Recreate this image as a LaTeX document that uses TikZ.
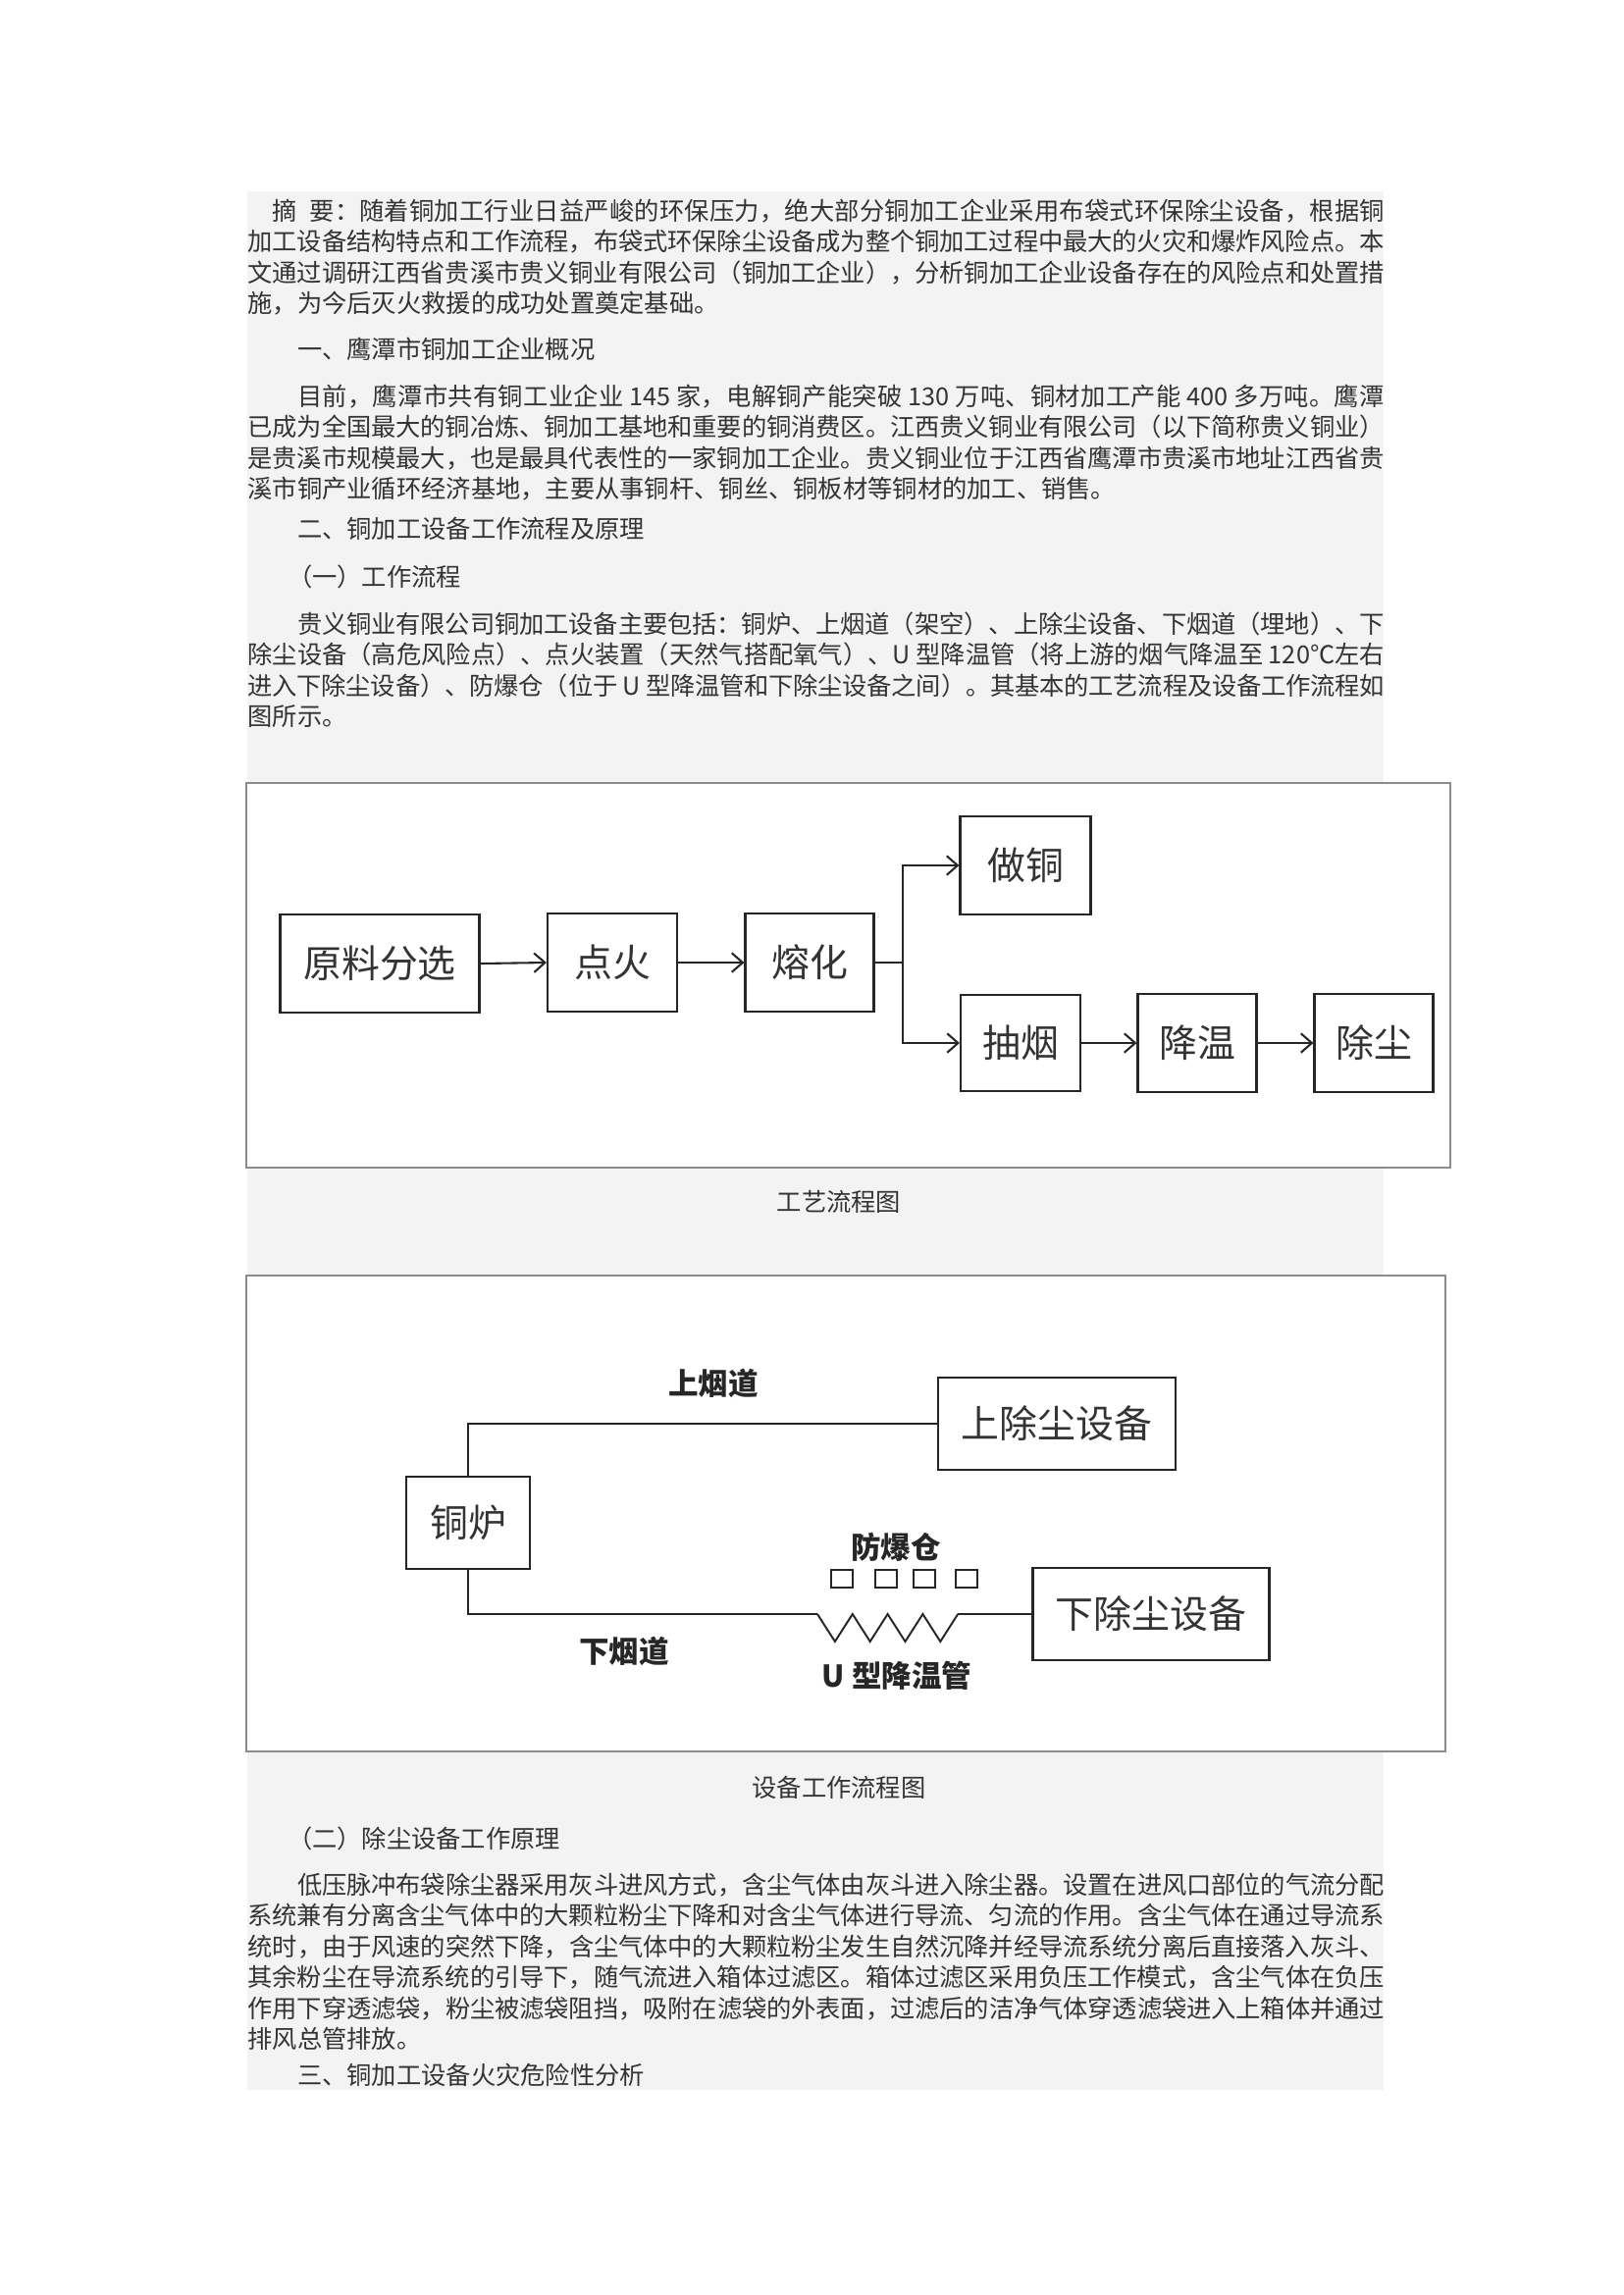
\documentclass[tikz,border=0pt]{standalone}
\usepackage{fontspec}
\setmainfont{Noto Sans CJK SC}
\usepackage{tikz}
\usetikzlibrary{arrows.meta,positioning,calc}
\XeTeXlinebreaklocale "zh"
\XeTeXlinebreakskip=0pt plus 2pt minus 0.3pt
\definecolor{bggray}{HTML}{F3F3F3}
\definecolor{inkgray}{HTML}{333333}
\newcommand{\lastline}{\hfill\mbox{}}
\tikzset{
  bodyline/.style={anchor=base west,inner sep=0pt,text width=417pt,align=justify,
    font=\fontsize{9.1pt}{11.3pt}\selectfont,text=inkgray,
    execute at begin node={\parfillskip=0pt\relax}},
  caption/.style={anchor=base,inner sep=0pt,font=\fontsize{9.1pt}{11.3pt}\selectfont,text=inkgray},
  procbox/.style={draw=black!85,line width=0.75pt,inner sep=0pt,
    font=\fontsize{14pt}{16pt}\selectfont,text=black!80},
  ductlabel/.style={inner sep=0pt,font=\fontsize{11pt}{13pt}\selectfont\bfseries,text=black!85},
  flow/.style={draw=black!85,line width=0.75pt,-{Straight Barb[length=4pt,width=7pt]}},
  duct/.style={draw=black!85,line width=0.7pt},
  vent/.style={draw=black!85,line width=0.7pt,minimum width=8pt,minimum height=6.8pt,inner sep=0pt}
}
\begin{document}
\begin{tikzpicture}[x=0.36pt,y=-0.36pt]
\useasboundingbox (0,0) rectangle (1654,2339);

% page background
\fill[white] (0,0) rectangle (1654,2339);
\fill[bggray] (252,195) rectangle (1410,2130);

% abstract
\foreach \t [count=\i] in {\hspace*{1em}摘\hspace{0.5em}要：随着铜加工行业日益严峻的环保压力，绝大部分铜加工企业采用布袋式环保除尘设备，根据铜,
  加工设备结构特点和工作流程，布袋式环保除尘设备成为整个铜加工过程中最大的火灾和爆炸风险点。本,
  文通过调研江西省贵溪市贵义铜业有限公司（铜加工企业），分析铜加工企业设备存在的风险点和处置措,
  施，为今后灭火救援的成功处置奠定基础。\lastline}{
  \node[bodyline] (abs\i) at (252,{224+31.5*(\i-1)}) {\t};
}

\node[bodyline] (head1) at (252,365) {\hspace*{2em}一、鹰潭市铜加工企业概况\lastline};

% section 1
\foreach \t [count=\i] in {\hspace*{2em}目前，鹰潭市共有铜工业企业 145 家，电解铜产能突破 130 万吨、铜材加工产能 400 多万吨。鹰潭,
  已成为全国最大的铜冶炼、铜加工基地和重要的铜消费区。江西贵义铜业有限公司（以下简称贵义铜业）,
  是贵溪市规模最大，也是最具代表性的一家铜加工企业。贵义铜业位于江西省鹰潭市贵溪市地址江西省贵,
  溪市铜产业循环经济基地，主要从事铜杆、铜丝、铜板材等铜材的加工、销售。\lastline}{
  \node[bodyline] (sec\i) at (252,{413+31.5*(\i-1)}) {\t};
}

\node[bodyline] (head2) at (252,548) {\hspace*{2em}二、铜加工设备工作流程及原理\lastline};
\node[bodyline] (head2a) at (252,597) {\hspace*{1.6em}（一）工作流程\lastline};

\foreach \t [count=\i] in {\hspace*{2em}贵义铜业有限公司铜加工设备主要包括：铜炉、上烟道（架空）、上除尘设备、下烟道（埋地）、下,
  除尘设备（高危风险点）、点火装置（天然气搭配氧气）、U 型降温管（将上游的烟气降温至 120℃左右,
  进入下除尘设备）、防爆仓（位于 U 型降温管和下除尘设备之间）。其基本的工艺流程及设备工作流程如,
  图所示。\lastline}{
  \node[bodyline] (eq\i) at (252,{645+31.5*(\i-1)}) {\t};
}

% process flow chart
\draw[fill=white,draw=black!45,line width=0.8pt] (251,798) rectangle (1478,1190);
\node[procbox,minimum width=203*0.36pt,minimum height=100*0.36pt] (raw) at (387,982) {原料分选};
\node[procbox,minimum width=132*0.36pt,minimum height=100*0.36pt] (fire) at (624,981) {点火};
\node[procbox,minimum width=131*0.36pt,minimum height=100*0.36pt] (melt) at (825,981) {熔化};
\node[procbox,minimum width=133*0.36pt,minimum height=100*0.36pt] (cast) at (1045,882) {做铜};
\node[procbox,minimum width=122*0.36pt,minimum height=98*0.36pt] (smoke) at (1040,1063) {抽烟};
\node[procbox,minimum width=121*0.36pt,minimum height=100*0.36pt] (cool) at (1220,1063) {降温};
\node[procbox,minimum width=121*0.36pt,minimum height=100*0.36pt] (dust) at (1400,1063) {除尘};
\coordinate (split) at (920,981);

\draw[flow] (raw.east) -- (fire.west);
\draw[flow] (fire) -- (melt);
\draw[duct,line width=0.75pt] (melt.east) -- (split);
\draw[flow] (split) |- (cast.west);
\draw[flow] (split) |- (smoke.west);
\draw[flow] (smoke) -- (cool);
\draw[flow] (cool) -- (dust);

\node[caption] (cap1) at (855,1234) {工艺流程图};

% equipment flow chart
\draw[fill=white,draw=black!45,line width=0.8pt] (251,1300) rectangle (1473,1785);
\node[procbox,minimum width=126*0.36pt,minimum height=94*0.36pt] (furnace) at (477,1552) {铜炉};
\node[procbox,minimum width=242*0.36pt,minimum height=94*0.36pt] (updust) at (1077,1451) {上除尘设备};
\node[procbox,minimum width=241*0.36pt,minimum height=94*0.36pt] (lowdust) at (1173,1645) {下除尘设备};
\coordinate (zstart) at (833,1645);
\coordinate (zend) at (976,1645);

\draw[duct] (furnace.north) |- (updust.west);
\draw[duct] (furnace.south) |- (zstart);
\draw[duct] (zstart) \foreach \k in {1,...,4}{ -- ++(17.9,28) -- ++(17.9,-28)};
\draw[duct] (zend) -- (lowdust.west);

\foreach \x [count=\i] in {858,903,942,985}{
  \node[vent] (vent\i) at (\x,1609) {};
}

\node[ductlabel] (uplabel) at (727,1410) {上烟道};
\node[ductlabel] (ventlabel) at (913,1577) {防爆仓};
\node[ductlabel] (lowlabel) at (636,1683) {下烟道};
\node[ductlabel] (ulabel) at (914,1708) {U 型降温管};

\node[caption] (cap2) at (855,1831) {设备工作流程图};

% section 2
\node[bodyline] (head2b) at (252,1883) {\hspace*{1.6em}（二）除尘设备工作原理\lastline};

\foreach \t [count=\i] in {\hspace*{2em}低压脉冲布袋除尘器采用灰斗进风方式，含尘气体由灰斗进入除尘器。设置在进风口部位的气流分配,
  系统兼有分离含尘气体中的大颗粒粉尘下降和对含尘气体进行导流、匀流的作用。含尘气体在通过导流系,
  统时，由于风速的突然下降，含尘气体中的大颗粒粉尘发生自然沉降并经导流系统分离后直接落入灰斗、,
  其余粉尘在导流系统的引导下，随气流进入箱体过滤区。箱体过滤区采用负压工作模式，含尘气体在负压,
  作用下穿透滤袋，粉尘被滤袋阻挡，吸附在滤袋的外表面，过滤后的洁净气体穿透滤袋进入上箱体并通过,
  排风总管排放。\lastline}{
  \node[bodyline] (dp\i) at (252,{1930+31.5*(\i-1)}) {\t};
}

\node[bodyline] (head3) at (252,2124) {\hspace*{2em}三、铜加工设备火灾危险性分析\lastline};

\end{tikzpicture}
\end{document}
